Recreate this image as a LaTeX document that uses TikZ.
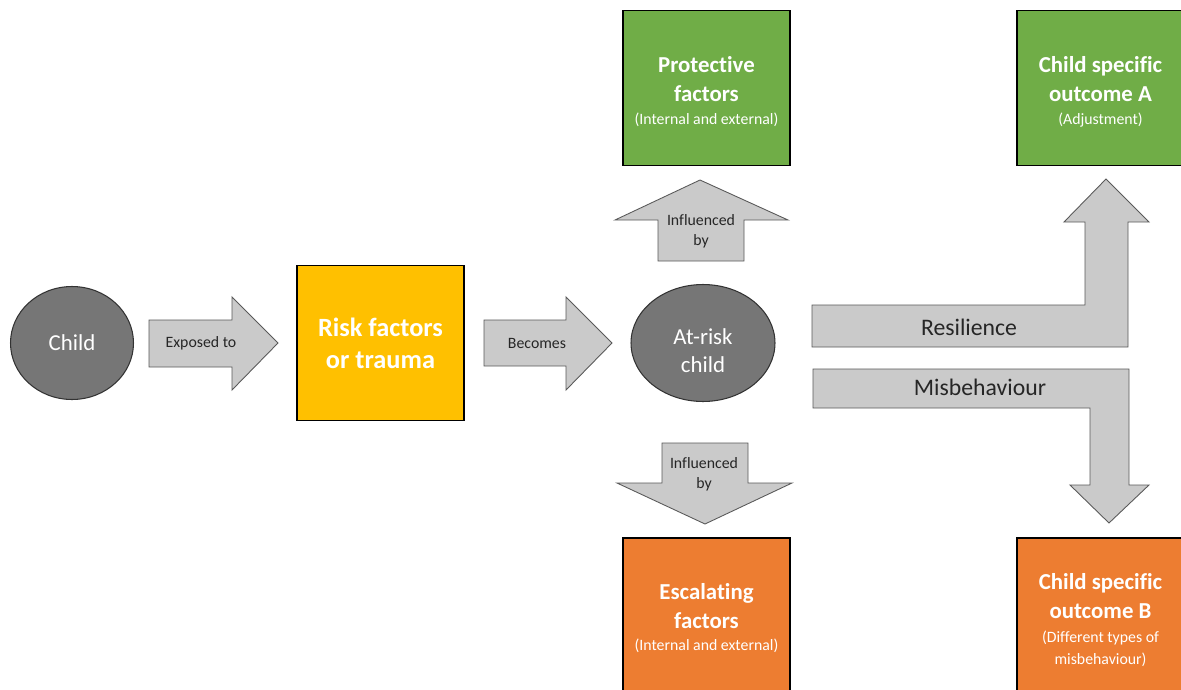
\documentclass[tikz,border=0pt]{standalone}
\usepackage{fontspec}
\setmainfont{Carlito}[Ligatures=NoCommon]
\usetikzlibrary{shapes.geometric}
\definecolor{protgreen}{HTML}{70AD47}
\definecolor{escorange}{HTML}{ED7D31}
\definecolor{riskyellow}{HTML}{FFC000}
\definecolor{childgray}{HTML}{767676}
\definecolor{arrowgray}{HTML}{CACACA}
\definecolor{edgegray}{HTML}{595959}
\newcommand\boxtitle{\fontsize{13}{15.9}\selectfont\bfseries}
\newcommand\boxnote{\fontsize{9}{11.5}\selectfont}
\tikzset{
  factorbox/.style={draw=black, line width=0.9pt, text=white, align=center,
    minimum width=3.34cm, minimum height=3.1cm, inner sep=0pt},
  boxtext/.style={text=white, align=center, inner sep=0pt},
  person/.style={ellipse, draw=black!80, line width=0.6pt, fill=childgray,
    text=white, align=center, inner sep=0pt, font=\fontsize{13}{16}\selectfont},
  blockarrow/.style={draw=edgegray, line width=0.5pt, fill=arrowgray, line join=miter},
  arrowtext/.style={align=center, text=black!85, font=\fontsize{9}{11.5}\selectfont},
  pathtext/.style={text=black!85, font=\fontsize{13.5}{16}\selectfont}
}
\begin{document}
\begin{tikzpicture}[x=0.02cm, y=-0.02cm]
\clip (0,0) rectangle (1181,690);
% people and factors
\node[person, minimum width=2.46cm, minimum height=2.26cm] (child) at (72,343) {Child};
\node[factorbox, fill=riskyellow, font=\fontsize{15}{18.2}\selectfont\bfseries]
  (risk) at (380.5,343) {Risk factors\\or trauma};
\node[person, minimum width=2.88cm, minimum height=2.34cm] (atrisk) at (703,343) {};
\node[text=white, align=center, font=\fontsize{13}{16}\selectfont] (atrisktext) at (703,351) {At-risk\\child};
\node[factorbox, fill=protgreen] (protect) at (706.5,88) {};
\node[factorbox, fill=escorange] (escalate) at (706.5,615.5) {};
\node[factorbox, fill=protgreen] (outcomeA) at (1100.5,88) {};
\node[factorbox, fill=escorange] (outcomeB) at (1100.5,615.5) {};
\node[boxtext] (protecttext) at ([yshift=-2pt]protect)
  {\boxtitle Protective\\[4.4pt]\boxtitle factors\\[1pt]\boxnote (Internal and external)};
\node[boxtext] (escalatetext) at ([yshift=-1.5pt]escalate)
  {\boxtitle Escalating\\[4.4pt]\boxtitle factors\\[1pt]\boxnote (Internal and external)};
\node[boxtext] (outcomeAtext) at ([yshift=-2pt]outcomeA)
  {\boxtitle Child specific\\[4.4pt]\boxtitle outcome A\\[1pt]\boxnote (Adjustment)};
\node[boxtext] (outcomeBtext) at ([yshift=-2.5pt]outcomeB)
  {\boxtitle Child specific\\[4.4pt]\boxtitle outcome B\\[2pt]\boxnote (Different types of\\\boxnote misbehaviour)};

% block arrows
\draw[blockarrow] (149,320)--(232,320)--(232,297)--(278,343)--(232,390)--(232,367)--(149,367)--cycle;
\draw[blockarrow] (484,320)--(566,320)--(566,297)--(612,343)--(566,390)--(566,366)--(484,366)--cycle;
\draw[blockarrow] (658,261)--(658,220)--(615,220)--(700,180)--(788,220)--(744,220)--(744,261)--cycle;
\draw[blockarrow] (662,443)--(748,443)--(748,483)--(792,483)--(705,524)--(617,483)--(662,483)--cycle;
\draw[blockarrow] (812,305)--(1085,305)--(1085,222)--(1064,222)--(1106,179)--(1149,222)
  --(1128,222)--(1128,347)--(812,347)--cycle;
\draw[blockarrow] (813,369)--(1129,369)--(1129,485)--(1149,485)--(1109,523)--(1070,485)
  --(1090,485)--(1090,408)--(813,408)--cycle;

% arrow labels
\node[arrowtext] (exposed) at (201,343) {Exposed to};
\node[arrowtext] (becomes) at (537,343) {Becomes};
\node[arrowtext] (influp) at (701,231) {Influenced\\by};
\node[arrowtext] (infldown) at (704,474) {Influenced\\by};
\node[pathtext] (resil) at (969,327) {Resilience};
\node[pathtext] (misbeh) at (980,387) {Misbehaviour};
\end{tikzpicture}
\end{document}
